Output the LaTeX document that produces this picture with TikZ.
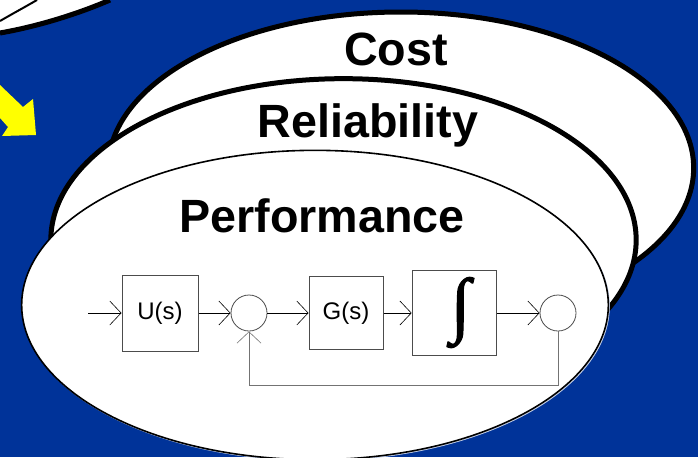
\documentclass[tikz,border=0pt]{standalone}
\usepackage{fontspec}
\setmainfont{Liberation Sans}
\newfontfamily\intfont[FakeBold=1.5]{Liberation Serif}
\usetikzlibrary{arrows.meta,shapes.geometric}
\definecolor{slideblue}{HTML}{003399}
\definecolor{sunyellow}{HTML}{FFFF00}
\tikzset{
  px/.style={x=0.75pt,y=-0.75pt},
  bubble/.style={ellipse,draw=black,fill=white,inner sep=0pt,outer sep=0pt},
  heading/.style={font=\fontsize{35}{35}\selectfont\bfseries,inner sep=0pt,text=black},
  blockbox/.style={draw=black!70,fill=white,line width=0.75pt,inner sep=0pt,font=\fontsize{18}{18}\selectfont},
  sumdot/.style={circle,draw=black!70,fill=white,line width=0.6pt,minimum size=27pt,inner sep=0pt},
  flow/.style={line width=0.7pt,-{Straight Barb[length=8.5pt,width=18pt,line width=0.45pt]}},
  flowgray/.style={flow,draw=black!55},
}
\begin{document}
\begin{tikzpicture}[px]
\useasboundingbox (0,0) rectangle (698,457);
\fill[slideblue] (0,0) rectangle (698,457);
\begin{scope}
\clip (0,0) rectangle (698,457);
\fill[white] (0,0) -- (110,0) .. controls (80,13) and (40,26) .. (0,33) -- cycle;
\draw[line width=3.8pt] (110,0) .. controls (80,13) and (40,26) .. (0,33);
\draw[line width=1.5pt] (37,0) .. controls (25,7) and (12,14) .. (0,21);
\fill[sunyellow] (0,85) -- (23,107) -- (33,99) -- (36,135) -- (2,136) -- (8,127) -- (0,118) -- cycle;
\node[bubble,line width=3.75pt,minimum width=439pt,minimum height=234pt] (cost) at (401,168) {};
\node[bubble,line width=3.75pt,minimum width=439pt,minimum height=242pt] (rel) at (343.5,240) {};
\node[ellipse,fill=white,draw=white!75!slideblue,line width=0.7pt,minimum width=440pt,minimum height=232pt,inner sep=0pt] (shadow) at (316,306) {};
\node[bubble,line width=1.2pt,minimum width=440pt,minimum height=232pt] (perf) at (315,305) {};
\end{scope}
\node[heading] (tcost) at (396,49.5) {Cost};
\node[heading] (trel) at (368,125.5) {Reliability};
\node[heading] (tperf) at (322,215.5) {Performance};
\node[blockbox,minimum width=57pt,minimum height=57pt] (u) at (160,313) {U(s)};
\node[blockbox,minimum width=55.5pt,minimum height=55pt] (g) at (346,313) {G(s)};
\node[blockbox,minimum width=63.5pt,minimum height=64pt] (i) at (454.5,313) {};
\node[inner sep=0pt] (intsign) at (460.5,312.5) {\intfont\fontsize{54}{54}\selectfont ∫};
\node[sumdot] (s1) at (249,313) {};
\node[sumdot] (s2) at (558,313) {};
\coordinate (in) at (88,313);
\coordinate (fb) at (400,385.5);
\draw[flow] (in) -- (u.west);
\draw[flow] (u.east) -- (s1.west);
\draw[flow] (s1.east) -- (g.west);
\draw[flow] (g.east) -- (i.west);
\draw[flow] (i.east) -- (s2.west);
\draw[flowgray] (s2.south) |- (fb) -| (s1.south);
\end{tikzpicture}
\end{document}
